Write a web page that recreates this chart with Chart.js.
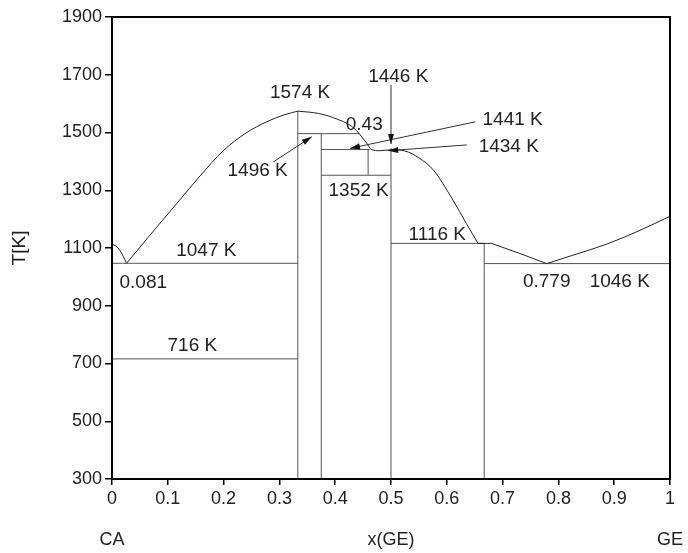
<!DOCTYPE html>
<html>
<head>
<meta charset="utf-8">
<script src="https://cdn.jsdelivr.net/npm/chart.js@4.4.1/dist/chart.umd.min.js"></script>
<style>
  html, body { margin: 0; padding: 0; background: #fff; }
  #wrap { width: 688px; height: 553px; }
</style>
</head>
<body>
<div id="wrap"><canvas id="diagrama"></canvas></div>
<script>
// Curvas de liquidus (x = fraccion de GE, T en K)
const liqCaX = [0, 0.007, 0.014, 0.02, 0.026];
const liqCaT = [1113, 1107, 1092, 1072, 1047];

const liqCa2GeX = [0.026, 0.08, 0.12, 0.158, 0.2, 0.24, 0.277, 0.31, 0.333];
const liqCa2GeT = [1047, 1172, 1263, 1350, 1438, 1498, 1537, 1562, 1574];

const liqCentroX = [0.333, 0.37, 0.397, 0.433, 0.456, 0.465, 0.48, 0.5, 0.525, 0.55, 0.576, 0.611, 0.635, 0.656];
const liqCentroT = [1574, 1566, 1551, 1516, 1464, 1441, 1437, 1440, 1436, 1412, 1370, 1266, 1185, 1116];

const liqCaGe2X = [0.656, 0.68, 0.731, 0.779];
const liqCaGe2T = [1116, 1116, 1081, 1046];

const liqGeX = [0.779, 0.826, 0.886, 0.946, 1];
const liqGeT = [1046, 1075, 1113, 1161, 1210];

// Lineas invariantes horizontales
const invT  = [1047, 716, 1496, 1441, 1352, 1116, 1046];
const invX0 = [0, 0, 0.333, 0.375, 0.375, 0.5, 0.667];
const invX1 = [0.333, 0.333, 0.444, 0.462, 0.5, 0.667, 1];

// Compuestos (lineas verticales)
const compX    = [0.333, 0.375, 0.459, 0.5, 0.667];
const compTopT = [1574, 1496, 1441, 1446, 1116];
const compBotT = [300, 300, 1352, 300, 300];

// Flechas (cola -> punta)
const flechaColaX  = [0.289, 0.651, 0.636, 0.5];
const flechaColaT  = [1398, 1537, 1457, 1665];
const flechaPuntaX = [0.358, 0.4265, 0.495, 0.5];
const flechaPuntaT = [1485, 1445, 1437, 1460];

// Etiquetas
const etiquetas = ["1574 K", "0.43", "1446 K", "1441 K", "1434 K", "1352 K", "1116 K", "1496 K", "1047 K", "0.081", "716 K", "0.779", "1046 K"];
const etiquetaX = [0.337, 0.452, 0.513, 0.718, 0.711, 0.442, 0.583, 0.261, 0.169, 0.056, 0.144, 0.779, 0.910];
const etiquetaT = [1637, 1528, 1694, 1543, 1451, 1299, 1146, 1368, 1090, 979, 760, 983, 983];

const fuente = "'Liberation Sans', Arial, sans-serif";

function puntos(xs, ts) {
  return xs.map((x, i) => ({ x: x, y: ts[i] }));
}

const datasets = [];
[[liqCaX, liqCaT, true], [liqCa2GeX, liqCa2GeT, true], [liqCentroX, liqCentroT, true], [liqCaGe2X, liqCaGe2T, false], [liqGeX, liqGeT, true]]
  .forEach(([xs, ts, suave]) => {
    datasets.push({
      data: puntos(xs, ts),
      showLine: true, pointRadius: 0, borderWidth: 1,
      borderColor: "#222",
      cubicInterpolationMode: suave ? "monotone" : "default",
      tension: 0
    });
  });

invT.forEach((t, i) => {
  datasets.push({
    data: [{ x: invX0[i], y: t }, { x: invX1[i], y: t }],
    showLine: true, pointRadius: 0, borderWidth: 1, borderColor: "#555"
  });
});

compX.forEach((x, i) => {
  datasets.push({
    data: [{ x: x, y: compBotT[i] }, { x: x, y: compTopT[i] }],
    showLine: true, pointRadius: 0, borderWidth: 1, borderColor: "#555"
  });
});

// Plugin para marco, flechas y textos
const extras = {
  id: "extras",
  afterDatasetsDraw(chart) {
    const { ctx, chartArea: a, scales: { x, y } } = chart;
    ctx.save();

    // flechas
    ctx.strokeStyle = "#333";
    ctx.fillStyle = "#111";
    ctx.lineWidth = 1;
    flechaColaX.forEach((cx, i) => {
      const x0 = x.getPixelForValue(cx), y0 = y.getPixelForValue(flechaColaT[i]);
      const x1 = x.getPixelForValue(flechaPuntaX[i]), y1 = y.getPixelForValue(flechaPuntaT[i]);
      const ang = Math.atan2(y1 - y0, x1 - x0);
      ctx.beginPath();
      ctx.moveTo(x0, y0);
      ctx.lineTo(x1, y1);
      ctx.stroke();
      ctx.beginPath();
      ctx.moveTo(x1, y1);
      ctx.lineTo(x1 - 10 * Math.cos(ang) + 3 * Math.sin(ang), y1 - 10 * Math.sin(ang) - 3 * Math.cos(ang));
      ctx.lineTo(x1 - 10 * Math.cos(ang) - 3 * Math.sin(ang), y1 - 10 * Math.sin(ang) + 3 * Math.cos(ang));
      ctx.closePath();
      ctx.fill();
    });

    // marco
    ctx.strokeStyle = "#000";
    ctx.lineWidth = 2;
    ctx.strokeRect(a.left, a.top, a.right - a.left, a.bottom - a.top);

    // etiquetas
    ctx.fillStyle = "#222";
    ctx.font = "19px " + fuente;
    ctx.textAlign = "center";
    ctx.textBaseline = "middle";
    etiquetas.forEach((txt, i) => {
      ctx.fillText(txt, x.getPixelForValue(etiquetaX[i]), y.getPixelForValue(etiquetaT[i]));
    });

    // CA y GE debajo del eje
    ctx.font = "18px " + fuente;
    ctx.fillText("CA", x.getPixelForValue(0), 540);
    ctx.fillText("GE", x.getPixelForValue(1), 540);
    ctx.restore();
  }
};

new Chart(document.getElementById("diagrama"), {
  type: "scatter",
  data: { datasets: datasets },
  options: {
    responsive: true,
    maintainAspectRatio: false,
    animation: false,
    layout: { padding: { top: 17, right: 18, left: 0, bottom: 0 } },
    plugins: {
      legend: { display: false },
      tooltip: { enabled: false }
    },
    scales: {
      x: {
        type: "linear", min: 0, max: 1,
        afterFit: s => { s.height = 74; },
        border: { color: "#000", width: 2 },
        grid: { drawOnChartArea: false, drawTicks: true, tickLength: 6, color: "#000", lineWidth: 1.5 },
        ticks: {
          stepSize: 0.1, color: "#222", padding: 3,
          font: { family: fuente, size: 18 },
          callback: v => String(Number(v.toFixed(1)))
        },
        title: {
          display: true, text: "x(GE)", color: "#222",
          font: { family: fuente, size: 18 }, padding: { top: 0, bottom: 2 }
        }
      },
      y: {
        type: "linear", min: 300, max: 1900,
        afterFit: s => { s.width = 112; },
        border: { color: "#000", width: 2 },
        grid: { drawOnChartArea: false, drawTicks: true, tickLength: 7, color: "#000", lineWidth: 1.5 },
        ticks: {
          stepSize: 200, color: "#222", padding: 3,
          font: { family: fuente, size: 18 },
          callback: v => String(v)
        },
        title: {
          display: true, text: "T[K]", color: "#222",
          font: { family: fuente, size: 19 }, padding: { top: 8, bottom: 0 }
        }
      }
    }
  },
  plugins: [extras]
});
</script>
</body>
</html>
